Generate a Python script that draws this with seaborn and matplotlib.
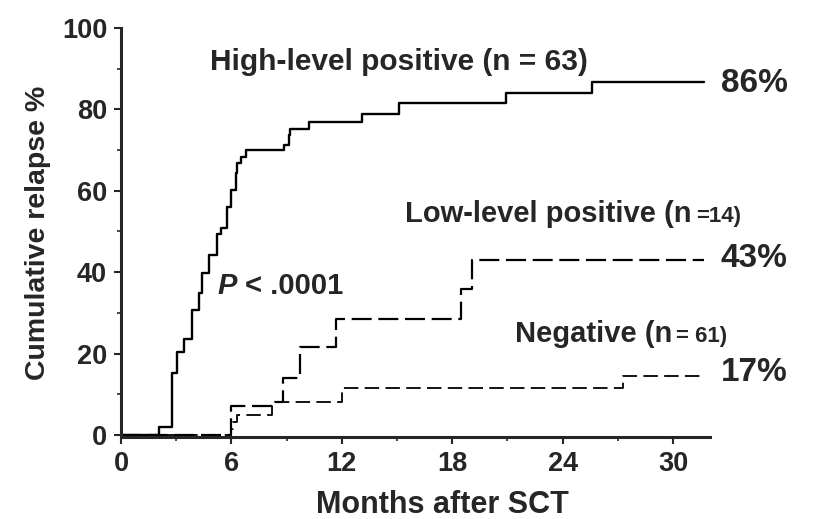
import matplotlib
matplotlib.use("Agg")
import matplotlib.pyplot as plt
from matplotlib import font_manager
import seaborn as sns
import pandas as pd
from matplotlib.ticker import MultipleLocator

# ---- data ----
high_t = [0, 2.07, 2.79, 3.06, 3.42, 3.88, 4.24, 4.42, 4.78, 5.23, 5.41, 5.77, 5.95,
          6.23, 6.32, 6.5, 6.78, 8.86, 9.13, 9.2, 10.2, 13.1, 15.1, 20.9, 25.6, 31.7]
high_v = [0, 1.9, 15.2, 20.5, 23.6, 30.7, 34.8, 39.7, 44.2, 49.5, 50.8, 56.1, 60.2,
          64.3, 66.8, 68.4, 70.0, 71.2, 73.7, 75.3, 77.0, 78.9, 81.5, 84.1, 86.8, 86.8]
low_t = [0, 6.0, 8.35, 8.8, 9.7, 11.7, 18.5, 19.1, 31.7]
low_v = [0, 7.0, 8.2, 14.0, 21.6, 28.5, 35.8, 43.0, 43.0]
neg_t = [0, 6.0, 6.1, 6.3, 8.2, 12.0, 27.3, 31.7]
neg_v = [0, 1.5, 3.2, 4.9, 8.0, 11.5, 14.5, 14.5]

groups = ["High", "Low", "Negative"]
final_labels = ["86%", "43%", "17%"]
x_ticks = [0, 6, 12, 18, 24, 30]
y_ticks = [0, 20, 40, 60, 80, 100]

df = pd.concat([
    pd.DataFrame({"month": high_t, "pct": high_v, "group": groups[0]}),
    pd.DataFrame({"month": low_t, "pct": low_v, "group": groups[1]}),
    pd.DataFrame({"month": neg_t, "pct": neg_v, "group": groups[2]}),
], ignore_index=True)

sns.set_style("ticks")
plt.rcParams["font.family"] = ["Liberation Sans", "DejaVu Sans"]
plt.rcParams["font.weight"] = "bold"

# condensed face for tick labels if available
try:
    font_manager.findfont(font_manager.FontProperties(family="Liberation Sans Narrow", weight="bold"),
                          fallback_to_default=False)
    tick_family, tick_size = ["Liberation Sans Narrow", "Liberation Sans"], 22
except Exception:
    tick_family, tick_size = ["Liberation Sans", "DejaVu Sans"], 19.5

fig = plt.figure(figsize=(8.15, 5.19), dpi=100)
ax = fig.add_axes([0.1485, 0.158, 0.871 - 0.1485, 0.946 - 0.158])

sns.lineplot(data=df, x="month", y="pct", hue="group", style="group",
             palette={g: "black" for g in groups},
             dashes={"High": "", "Low": (9, 3), "Negative": (8, 3.5)},
             size="group", sizes={"High": 1.7, "Low": 1.6, "Negative": 1.3},
             estimator=None, sort=False, drawstyle="steps-post",
             legend=False, ax=ax)

ax.set_xlim(0, 32)
ax.set_ylim(-0.5, 100)
ax.set_xticks(x_ticks)
ax.set_yticks(y_ticks)
ax.xaxis.set_minor_locator(MultipleLocator(3))
ax.yaxis.set_minor_locator(MultipleLocator(10))
ax.tick_params(axis="both", which="major", direction="out", length=5, width=1.5,
               labelsize=tick_size, pad=5)
ax.tick_params(axis="both", which="minor", direction="out", length=3, width=1.2)
for lab in ax.get_xticklabels() + ax.get_yticklabels():
    lab.set_fontweight("bold")
    lab.set_fontfamily(tick_family)
for s in ["left", "bottom"]:
    ax.spines[s].set_linewidth(2.2)
sns.despine(ax=ax)

ax.set_xlabel("Months after SCT", fontsize=22, fontweight="bold", labelpad=12)
ax.xaxis.set_label_coords(0.545, -0.13)
ax.set_ylabel("Cumulative relapse %", fontsize=20.5, fontweight="bold", labelpad=8)

ax.text(4.84, 89.7, "High-level positive (n = 63)", fontsize=21.5, fontweight="bold",
        va="baseline", ha="left")

def two_part(x, y, big, small):
    t = ax.text(x, y, big, fontsize=21, fontweight="bold", va="baseline", ha="left")
    ax.annotate(small, xy=(1, 0), xycoords=t, xytext=(3, 4.4), textcoords="offset points",
                fontsize=16, fontweight="bold", va="baseline", ha="left")

two_part(15.45, 52.3, "Low-level positive (n", "=14)")
two_part(21.4, 22.8, "Negative (n", "= 61)")

ax.text(5.25, 34.6, "P", fontsize=21, fontweight="bold", style="italic", va="baseline", ha="left")
ax.text(6.75, 34.6, "< .0001", fontsize=21, fontweight="bold", va="baseline", ha="left")

big = dict(fontsize=24, fontweight="bold", va="center", ha="left", clip_on=False)
ax.text(32.6, 86.4, final_labels[0], **big)
ax.text(32.6, 43.4, final_labels[1], **big)
ax.text(32.6, 15.4, final_labels[2], **big)

fig.savefig("out.png", dpi=100)
